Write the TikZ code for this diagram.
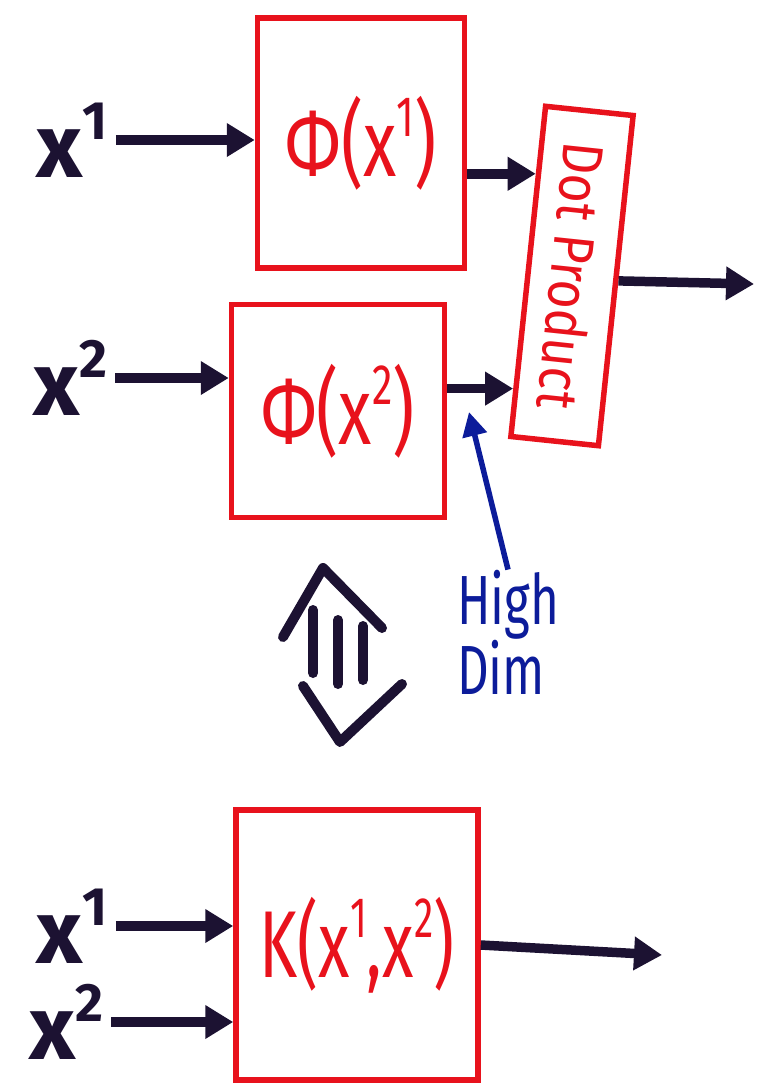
\documentclass[tikz,border=0pt]{standalone}
\usepackage{fontspec}
\setmainfont{Fira Sans}
\usetikzlibrary{arrows.meta,calc}
\definecolor{pen}{HTML}{1C1232}
\definecolor{mark}{HTML}{E8121C}
\definecolor{ink}{HTML}{0C1C9A}
\newcommand\supnum[1]{\raisebox{0.42em}{\scalebox{0.6}{#1}}}
\begin{document}
\begin{tikzpicture}[x=1pt,y=-1pt,
  box/.style={draw=mark,line width=5.5pt,inner sep=0pt,text=mark,font=\fontsize{76}{80}\selectfont},
  inlabel/.style={text=pen,inner sep=0pt,font=\fontsize{90}{90}\selectfont\bfseries},
  conn/.style={draw=pen,line width=9.5pt,-{Triangle[length=28pt,width=32pt]}},
  inconn/.style={conn,shorten <=8pt},
  bluearrow/.style={draw=ink,line width=5.5pt,-{Triangle[length=24pt,width=24pt]}},
  thick pen/.style={draw=pen,line width=10pt,line cap=round,line join=round}]
\useasboundingbox (0,0) rectangle (756,1085);
% phi boxes
\node[box,minimum width=207pt,minimum height=250pt] (b1) at (361,143) {\scalebox{0.9}[1.25]{Φ(x\supnum{1})}};
\node[box,minimum width=213pt,minimum height=213pt] (b2) at (338,411) {\scalebox{0.9}[1.25]{Φ(x\supnum{2})}};
\node[box,rotate=-96,minimum width=332pt,minimum height=88pt,font=\fontsize{50}{52}\selectfont] (dot) at (572,276) {\scalebox{1}[1.15]{Dot Product}};
% inputs
\node[inlabel] (xa) at (72,140) {x\supnum{1}};
\node[inlabel] (xb) at (70,378) {x\supnum{2}};
\coordinate (pa) at ($(dot.south west)!0.21!(dot.south east)$);
\coordinate (pb) at ($(dot.south west)!0.85!(dot.south east)$);
\coordinate (out1) at (754,284);
\draw[inconn] (xa.east) -- (xa.east -| b1.west);
\draw[inconn] (xb.east) -- (xb.east -| b2.west);
\draw[conn] (b1.east |- pa) -- (pa);
\draw[conn] (b2.east |- pb) -- (pb);
\draw[conn] (dot.north) -- (out1);
% high dim
\node[text=ink,align=left,inner sep=0pt,font=\fontsize{58}{68}\selectfont] (hd) at (508,632) {\scalebox{0.85}[1.2]{High}\\\scalebox{0.85}[1.2]{Dim}};
\coordinate (hdtip) at (469,412);
\draw[bluearrow] (hd.north) -- (hdtip);
% equivalence arrow
\draw[thick pen] (283,637) -- (323,568) -- (382,628);
\draw[thick pen] (313,610) -- (313,673);
\draw[thick pen] (338,620) -- (338,684);
\draw[thick pen] (363,626) -- (363,680);
\draw[thick pen] (303,686) -- (340,742) -- (402,684);
% kernel box
\node[box,minimum width=242pt,minimum height=270pt] (k) at (357,945) {\scalebox{0.85}[1.25]{K(x\supnum{1},x\supnum{2})}};
\node[inlabel] (xc) at (72,926) {x\supnum{1}};
\node[inlabel] (xd) at (66,1022) {x\supnum{2}};
\coordinate (out2) at (662,955);
\draw[inconn] (xc.east) -- (xc.east -| k.west);
\draw[inconn] (xd.east) -- (xd.east -| k.west);
\draw[conn] (k.east) -- (out2);
\end{tikzpicture}
\end{document}
